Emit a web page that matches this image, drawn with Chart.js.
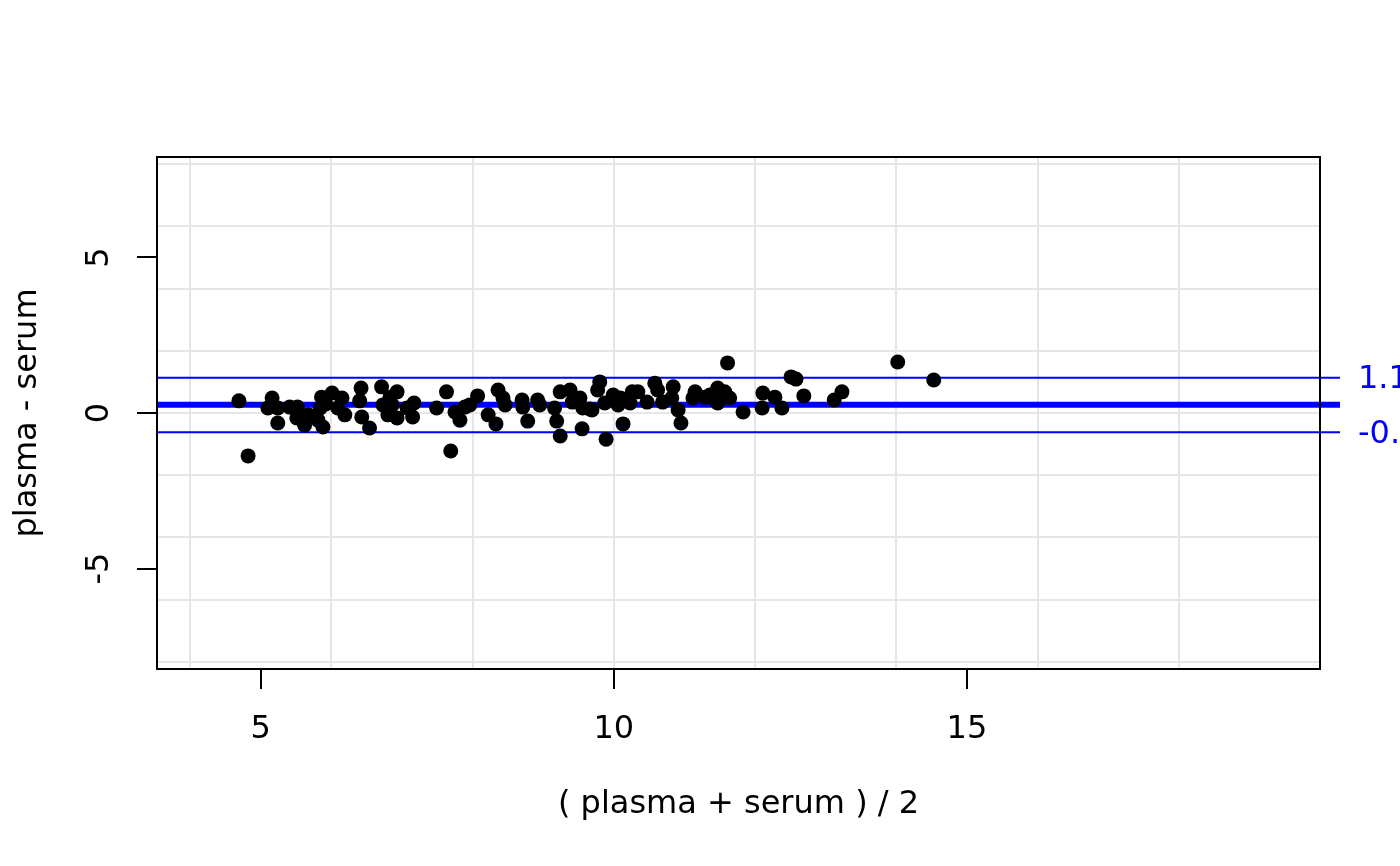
<!DOCTYPE html>
<html>
<head>
<meta charset="utf-8">
<title>plasma vs serum</title>
<script src="https://cdn.jsdelivr.net/npm/chart.js@4.4.1/dist/chart.umd.min.js"></script>
<style>
  html, body { margin: 0; padding: 0; background: #fff; }
  canvas { display: block; }
</style>
</head>
<body>
<canvas id="baChart" width="1400" height="866"></canvas>
<script>
// averages ( plasma + serum ) / 2
const avgValues = [
  4.69, 4.82, 5.16, 5.10, 5.24, 5.24, 5.41, 5.52, 5.51, 5.62,
  5.67, 5.81, 5.88, 5.86, 5.84, 5.92, 6.01, 6.15, 6.09, 6.19,
  6.42, 6.40, 6.43, 6.54, 6.71, 6.73, 6.83, 6.80, 6.93, 6.86,
  6.93, 7.07, 7.17, 7.15, 7.49, 7.63, 7.69, 7.75, 7.82, 7.89,
  7.96, 8.07, 8.22, 8.33, 8.36, 8.43, 8.46, 8.70, 8.71, 8.78,
  8.92, 8.95, 9.19, 9.24, 9.24, 9.16, 9.38, 9.41, 9.52, 9.55,
  9.56, 9.69, 9.66, 9.80, 9.77, 9.89, 9.87, 9.99, 10.06, 10.13,
  10.09, 10.26, 10.23, 10.34, 10.47, 10.58, 10.62, 10.69, 10.84, 10.82,
  10.91, 10.95, 11.15, 11.12, 11.29, 11.40, 11.61, 11.47, 11.36, 11.57,
  11.47, 11.64, 11.83, 12.11, 12.10, 12.28, 12.38, 12.51, 12.58, 12.69,
  13.12, 13.23, 14.02, 14.53
];
// differences plasma - serum
const diffValues = [
  0.39, -1.38, 0.48, 0.16, -0.32, 0.16, 0.19, 0.19, -0.16, -0.39,
  -0.06, -0.23, -0.45, 0.51, 0.16, 0.29, 0.64, 0.48, 0.16, -0.06,
  0.80, 0.39, -0.13, -0.48, 0.84, 0.26, 0.51, -0.06, 0.68, 0.26,
  -0.16, 0.16, 0.32, -0.13, 0.16, 0.68, -1.22, 0.03, -0.23, 0.19,
  0.26, 0.55, -0.06, -0.35, 0.74, 0.48, 0.26, 0.42, 0.19, -0.26,
  0.42, 0.26, -0.26, -0.74, 0.68, 0.16, 0.74, 0.35, 0.48, -0.51,
  0.16, 0.10, 0.13, 1.00, 0.74, -0.84, 0.32, 0.58, 0.26, -0.35,
  0.48, 0.68, 0.32, 0.68, 0.35, 0.96, 0.74, 0.35, 0.84, 0.48,
  0.10, -0.32, 0.68, 0.48, 0.51, 0.48, 1.61, 0.80, 0.58, 0.68,
  0.32, 0.48, 0.03, 0.64, 0.16, 0.51, 0.16, 1.16, 1.09, 0.55,
  0.42, 0.68, 1.64, 1.06
];

// tick labels and grid positions
const xTickValues = [5, 10, 15];
const yTickValues = [-5, 0, 5];
const xGridValues = [4, 6, 8, 10, 12, 14, 16, 18];
const yGridValues = [-8, -6, -4, -2, 0, 2, 4, 6, 8];

// mean difference and limits of agreement
const meanDiff = 0.265;
const upperLimit = 1.135;
const lowerLimit = -0.62;
const limitLabels = ['1.14', '-0.62'];

const FONT = 'DejaVu Sans';

// x / y axis: ticks every grid line plus the labelled ones
const xAllTicks = [...new Set([...xGridValues, ...xTickValues])].sort((a, b) => a - b);
const yAllTicks = [...new Set([...yGridValues, ...yTickValues])].sort((a, b) => a - b);

// Bland-Altman reference lines (drawn under the points)
const refLines = {
  id: 'refLines',
  beforeDatasetsDraw(chart) {
    const { ctx, chartArea, scales } = chart;
    const yScale = scales.y;
    const lines = [
      { v: meanDiff, w: 6 },
      { v: upperLimit, w: 2 },
      { v: lowerLimit, w: 2 }
    ];
    ctx.save();
    ctx.strokeStyle = '#0000ff';
    lines.forEach(l => {
      const py = yScale.getPixelForValue(l.v);
      ctx.lineWidth = l.w;
      ctx.beginPath();
      ctx.moveTo(chartArea.left, py);
      ctx.lineTo(chartArea.right + 20, py);
      ctx.stroke();
    });
    ctx.restore();
  },
  afterDraw(chart) {
    const { ctx, chartArea, scales } = chart;
    const yScale = scales.y;
    ctx.save();
    // plot box
    ctx.strokeStyle = '#000';
    ctx.lineWidth = 2;
    ctx.strokeRect(chartArea.left, chartArea.top, chartArea.right - chartArea.left, chartArea.bottom - chartArea.top);
    // limit labels in the right margin
    ctx.fillStyle = '#0000ff';
    ctx.font = '32px "' + FONT + '"';
    ctx.textAlign = 'left';
    ctx.textBaseline = 'middle';
    ctx.fillText(limitLabels[0], chartArea.right + 38, yScale.getPixelForValue(upperLimit) + 2);
    ctx.fillText(limitLabels[1], chartArea.right + 38, yScale.getPixelForValue(lowerLimit) + 2);
    ctx.restore();
  }
};

const ctx = document.getElementById('baChart').getContext('2d');
const baChart = new Chart(ctx, {
  type: 'scatter',
  data: {
    datasets: [{
      data: avgValues.map((v, i) => ({ x: v, y: diffValues[i] })),
      backgroundColor: '#000',
      borderColor: '#000',
      borderWidth: 0,
      pointRadius: 7.5,
      pointHoverRadius: 7.5
    }]
  },
  options: {
    responsive: false,
    animation: false,
    events: [],
    layout: { padding: { top: 157, right: 80, left: 0, bottom: 0 } },
    plugins: {
      legend: { display: false },
      tooltip: { enabled: false }
    },
    scales: {
      x: {
        type: 'linear',
        min: 3.53,
        max: 20,
        afterBuildTicks: axis => { axis.ticks = xAllTicks.map(v => ({ value: v })); },
        afterFit: axis => { axis.height = 197; },
        border: { display: false },
        grid: {
          color: c => (xGridValues.includes(c.tick.value) ? '#e6e6e6' : 'rgba(0,0,0,0)'),
          lineWidth: 2,
          drawTicks: true,
          tickLength: 20,
          tickWidth: 2,
          tickColor: c => (xTickValues.includes(c.tick.value) ? '#000' : 'rgba(0,0,0,0)')
        },
        ticks: {
          autoSkip: false,
          maxRotation: 0,
          padding: 21,
          color: '#000',
          font: { family: FONT, size: 32 },
          callback: v => (xTickValues.includes(v) ? String(v) : '')
        },
        title: {
          display: true,
          text: '( plasma + serum ) / 2',
          color: '#000',
          font: { family: FONT, size: 32 },
          padding: { top: 0, bottom: 42 }
        }
      },
      y: {
        type: 'linear',
        min: -8.23,
        max: 8.23,
        afterBuildTicks: axis => { axis.ticks = yAllTicks.map(v => ({ value: v })); },
        afterFit: axis => { axis.width = 157; },
        border: { display: false },
        grid: {
          color: c => (yGridValues.includes(c.tick.value) ? '#e6e6e6' : 'rgba(0,0,0,0)'),
          lineWidth: 2,
          drawTicks: true,
          tickLength: 20,
          tickWidth: 2,
          tickColor: c => (yTickValues.includes(c.tick.value) ? '#000' : 'rgba(0,0,0,0)')
        },
        ticks: {
          autoSkip: false,
          minRotation: 90,
          maxRotation: 90,
          crossAlign: 'center',
          padding: 21,
          color: '#000',
          font: { family: FONT, size: 32 },
          callback: v => (yTickValues.includes(v) ? String(v) : '')
        },
        title: {
          display: true,
          text: 'plasma - serum',
          color: '#000',
          font: { family: FONT, size: 32 },
          padding: { top: 8, bottom: 0 }
        }
      }
    }
  },
  plugins: [refLines]
});
</script>
</body>
</html>
